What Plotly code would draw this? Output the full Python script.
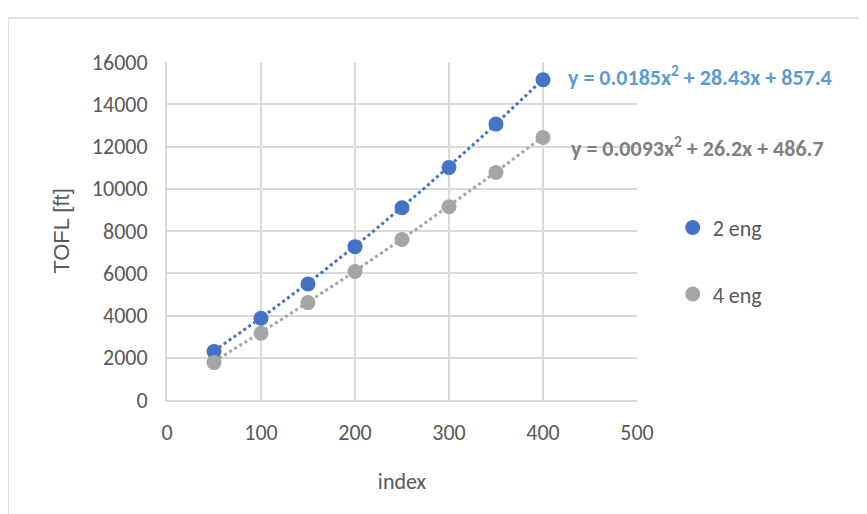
import plotly.graph_objects as go
import numpy as np

# ---- data ----
index_vals = [50, 100, 150, 200, 250, 300, 350, 400]
tofl_2eng = [2290, 3870, 5490, 7260, 9100, 11010, 13060, 15160]
tofl_4eng = [1770, 3160, 4610, 6080, 7600, 9150, 10770, 12430]
series_names = ["2 eng", "4 eng"]
trend_2eng = [0.0185, 28.43, 857.4]   # a, b, c of y = a x^2 + b x + c
trend_4eng = [0.0093, 26.2, 486.7]
eq_labels = ["y = 0.0185x<sup>2</sup> + 28.43x + 857.4",
             "y = 0.0093x<sup>2</sup> + 26.2x + 486.7"]
x_ticks = [0, 100, 200, 300, 400, 500]
x_tick_labels = ["0", "100", "200", "300", "400", "500"]
y_ticks = [0, 2000, 4000, 6000, 8000, 10000, 12000, 14000, 16000]
y_tick_labels = ["0", "2000", "4000", "6000", "8000", "10000", "12000", "14000", "16000"]

BLUE = "#4472C4"
GRAY = "#A5A5A5"
TXT = "#595959"
FONT = "Carlito, 'Liberation Sans Narrow', Lato, sans-serif"

fig = go.Figure()

xt = np.linspace(min(index_vals), max(index_vals), 60)
for coef, col in [(trend_2eng, BLUE), (trend_4eng, GRAY)]:
    yt = coef[0] * xt**2 + coef[1] * xt + coef[2]
    fig.add_trace(go.Scatter(x=xt, y=yt, mode="lines", showlegend=False,
                             line=dict(color=col, width=3, dash="dot"),
                             hoverinfo="skip"))

for i, (ys, col) in enumerate([(tofl_2eng, BLUE), (tofl_4eng, GRAY)]):
    fig.add_trace(go.Scatter(x=index_vals, y=ys, mode="markers", name=series_names[i],
                             legendgroup=series_names[i],
                             marker=dict(color=col, size=15)))

fig.update_layout(
    width=867, height=514,
    paper_bgcolor="white", plot_bgcolor="white",
    margin=dict(l=159, r=238, t=54, b=122),
    font=dict(family=FONT, size=22, color=TXT),
    xaxis=dict(range=[0, 500], tickvals=x_ticks, ticktext=x_tick_labels,
               showgrid=True, gridcolor="#D9D9D9",
               gridwidth=1.5, zeroline=False, showline=True, linecolor="#D9D9D9",
               linewidth=2, mirror=False, ticks="", ticklabelstandoff=12,
               title=dict(text="index", standoff=28, font=dict(size=22, color=TXT))),
    yaxis=dict(range=[0, 16000], tickvals=y_ticks, ticktext=y_tick_labels,
               showgrid=True, gridcolor="#D9D9D9",
               gridwidth=1.5, zeroline=False, showline=True, linecolor="#D9D9D9",
               linewidth=2, ticks="", ticklabelstandoff=13,
               title=dict(text="TOFL [ft]", standoff=16,
                          font=dict(family="'Liberation Sans', Arial, sans-serif", size=22, color=TXT))),
    legend=dict(x=1.076, y=0.572, xanchor="left", yanchor="top", tracegroupgap=35,
                font=dict(size=22, color=TXT), itemwidth=30, bgcolor="rgba(0,0,0,0)"),
    showlegend=True,
)

fig.add_annotation(xref="paper", yref="paper", x=0.848, y=0.96, xanchor="left", yanchor="middle",
                   text="<b>" + eq_labels[0] + "</b>", showarrow=False,
                   font=dict(size=22, color="#5B9BD5"))
fig.add_annotation(xref="paper", yref="paper", x=0.855, y=0.75, xanchor="left", yanchor="middle",
                   text="<b>" + eq_labels[1] + "</b>", showarrow=False,
                   font=dict(size=22, color="#7F7F7F"))

# outer chart border
fig.add_shape(type="rect", xref="paper", yref="paper", x0=-0.338, y0=-0.4, x1=1.55, y1=1.13,
              line=dict(color="#D9D9D9", width=1.5), layer="below")

fig.write_html("out.html")
